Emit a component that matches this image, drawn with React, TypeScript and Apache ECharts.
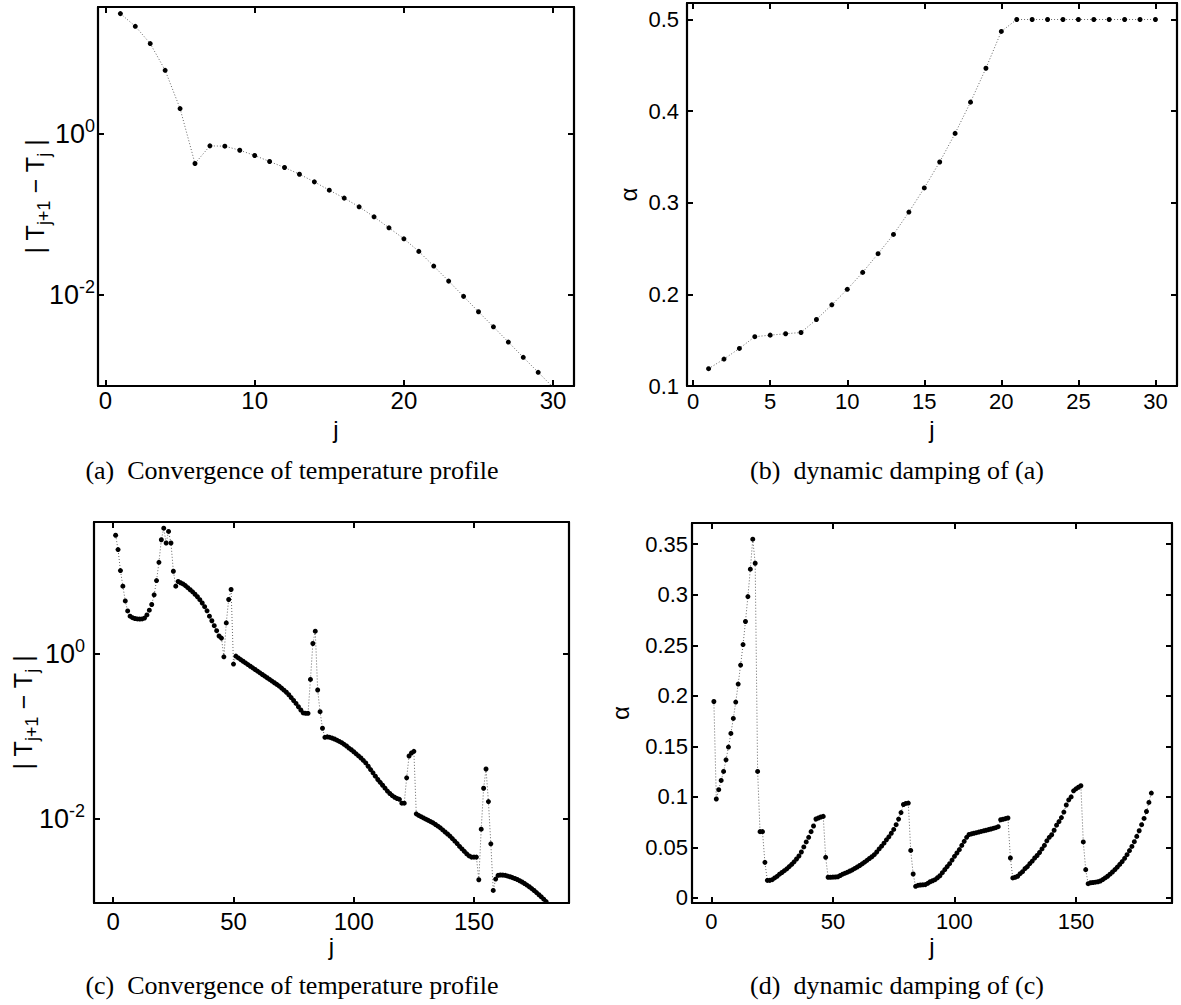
import React, { useEffect, useRef } from 'react';
import * as echarts from 'echarts';

// ---------- data ----------
// (a) |T_{j+1} - T_j| for the 30-iteration run
const convA = [30.55, 21.28, 13.0, 6.067, 2.037, 0.4256, 0.7031, 0.6966, 0.6209, 0.5346,
  0.4498, 0.3793, 0.3133, 0.2518, 0.1986, 0.1585, 0.1236, 0.0929, 0.06792, 0.04966,
  0.03467, 0.0228, 0.01486, 0.009616, 0.006194, 0.004036, 0.002612, 0.00169, 0.001102, 0.000718];
// (b) damping alpha for run (a)
const dampB = [0.1189, 0.1294, 0.141, 0.1538, 0.1555, 0.157, 0.1584, 0.1726, 0.1886, 0.2055,
  0.224, 0.2444, 0.2654, 0.2898, 0.3162, 0.3445, 0.3757, 0.4098, 0.4468, 0.487,
  0.5, 0.5, 0.5, 0.5, 0.5, 0.5, 0.5, 0.5, 0.5, 0.5];
// (c) |T_{j+1} - T_j| for the 181-iteration run
const convC = [27.16, 18.24, 10.16, 6.577, 4.365, 3.304, 2.851, 2.735, 2.673, 2.642,
  2.630, 2.642, 2.704, 2.951, 3.373, 3.945, 5.164, 7.691, 12.79, 23.99,
  33.11, 21.88, 30.2, 21.88, 9.977, 6.577, 7.499, 7.244, 6.998, 6.683,
  6.310, 5.957, 5.623, 5.248, 4.898, 4.519, 4.121, 3.715, 3.311, 2.851,
  2.512, 2.188, 1.905, 1.641, 1.549, 0.9204, 2.366, 4.539, 5.998, 0.7516,
  0.9376, 0.8913, 0.8511, 0.8128, 0.7762, 0.7413, 0.7079, 0.6761, 0.6457, 0.6166,
  0.5888, 0.5623, 0.5370, 0.5129, 0.4898, 0.4677, 0.4467, 0.4266, 0.4074, 0.3846,
  0.3631, 0.3428, 0.3199, 0.2951, 0.2723, 0.2512, 0.2291, 0.2089, 0.1928, 0.1905,
  0.1905, 0.4898, 1.334, 1.879, 0.3648, 0.1995, 0.1259, 0.09772, 0.09886, 0.09772,
  0.0955, 0.09333, 0.09016, 0.0871, 0.08414, 0.08035, 0.07674, 0.07244, 0.06918, 0.06531,
  0.06166, 0.05821, 0.05495, 0.05129, 0.04786, 0.04365, 0.03981, 0.03631, 0.03311, 0.0302,
  0.02786, 0.0257, 0.02371, 0.02188, 0.02042, 0.01928, 0.01841, 0.01778, 0.01738, 0.0156,
  0.0156, 0.03162, 0.05808, 0.0631, 0.06607, 0.01159, 0.01109, 0.01072, 0.01035, 0.01,
  0.009661, 0.009333, 0.009016, 0.00861, 0.008222, 0.007852, 0.007413, 0.006998, 0.006607, 0.006237,
  0.005821, 0.005433, 0.00507, 0.004677, 0.004365, 0.004074, 0.003802, 0.003589, 0.003475, 0.003475,
  0.003475, 0.001849, 0.007568, 0.02366, 0.04046, 0.01633, 0.005035, 0.001374, 0.001884, 0.002089,
  0.002113, 0.002104, 0.002089, 0.002051, 0.002009, 0.001963, 0.001914, 0.001862, 0.001799, 0.001738,
  0.001667, 0.001596, 0.001521, 0.001445, 0.001371, 0.001294, 0.001219, 0.001148, 0.001076, 0.001007, 0.000933];
// (d) damping alpha for run (c)
const dampD = [0.1944, 0.0979, 0.1071, 0.1163, 0.1252, 0.1367, 0.1493, 0.1628, 0.1776, 0.1938,
  0.2116, 0.2304, 0.2507, 0.2735, 0.2982, 0.3253, 0.355, 0.3312, 0.1252, 0.0656,
  0.0656, 0.0352, 0.0174, 0.0174, 0.0181, 0.0198, 0.0214, 0.0235, 0.0252, 0.027,
  0.0288, 0.031, 0.0332, 0.0357, 0.0385, 0.0415, 0.0455, 0.0505, 0.0554, 0.06,
  0.0656, 0.0712, 0.0781, 0.0791, 0.0801, 0.0807, 0.0402, 0.0205, 0.0205, 0.0206,
  0.0207, 0.021, 0.0222, 0.0235, 0.0245, 0.0255, 0.0267, 0.0278, 0.0292, 0.0306,
  0.0321, 0.0337, 0.0354, 0.0372, 0.039, 0.0408, 0.0428, 0.0455, 0.0485, 0.0512,
  0.0542, 0.0575, 0.0605, 0.064, 0.0678, 0.0725, 0.078, 0.0845, 0.0925, 0.0935,
  0.0939, 0.047, 0.0237, 0.0115, 0.0125, 0.0128, 0.013, 0.0132, 0.0145, 0.016,
  0.017, 0.0181, 0.02, 0.022, 0.025, 0.028, 0.031, 0.0339, 0.0375, 0.0412,
  0.0445, 0.0478, 0.052, 0.056, 0.06, 0.0628, 0.0634, 0.064, 0.0646, 0.0652,
  0.0658, 0.0664, 0.067, 0.0676, 0.0682, 0.0689, 0.0695, 0.0705, 0.0774, 0.0779,
  0.0785, 0.0791, 0.0395, 0.0198, 0.0205, 0.0215, 0.024, 0.026, 0.029, 0.031,
  0.034, 0.0365, 0.0395, 0.042, 0.045, 0.0485, 0.052, 0.0565, 0.06, 0.0625,
  0.067, 0.072, 0.0755, 0.0795, 0.085, 0.092, 0.097, 0.1, 0.106, 0.108,
  0.1095, 0.111, 0.0554, 0.028, 0.0141, 0.015, 0.0153, 0.0156, 0.016, 0.0168,
  0.0182, 0.0198, 0.0215, 0.0235, 0.0257, 0.028, 0.0305, 0.0332, 0.036, 0.0392,
  0.0428, 0.0468, 0.051, 0.0557, 0.0609, 0.0665, 0.0725, 0.0787, 0.0855, 0.0945, 0.1038];

// tick values
const ticksJ30 = [0, 10, 20, 30];
const ticksJ30b = [0, 5, 10, 15, 20, 25, 30];
const ticksJ180 = [0, 50, 100, 150];
const ticksLog = [1, 0.01];
const ticksAlphaB = [0.1, 0.2, 0.3, 0.4, 0.5];
const ticksAlphaD = [0, 0.05, 0.1, 0.15, 0.2, 0.25, 0.3, 0.35];

const captions = [
  '(a)  Convergence of temperature profile',
  '(b)  dynamic damping of (a)',
  '(c)  Convergence of temperature profile',
  '(d)  dynamic damping of (c)',
];

const SANS = '"Liberation Sans", Arial, Helvetica, sans-serif';
const SERIF = '"Liberation Serif", "Times New Roman", serif';

const withIndex = (arr: number[]) => arr.map((v, i) => [i + 1, v]);

export default function App() {
  const ref = useRef<HTMLDivElement>(null);

  useEffect(() => {
    if (!ref.current) return;
    const chart = echarts.init(ref.current, null, { renderer: 'svg' });

    const grids = [
      { left: 98, top: 7, width: 476, height: 379 },
      { left: 687, top: 3, width: 490, height: 383 },
      { left: 94, top: 522, width: 475, height: 381 },
      { left: 692, top: 523, width: 480, height: 380 },
    ].map((g) => ({
      ...g,
      show: false,
      containLabel: false,
      outerBoundsMode: 'none',
    }));

    const lineStyleBox = { show: true, onZero: false, lineStyle: { color: '#000', width: 2.2 } };

    const tickStyle = (vals: number[]) => ({
      show: true,
      inside: true,
      length: 6,
      customValues: vals,
      lineStyle: { color: '#000', width: 2 },
    });

    const supRich = (fs: number) => ({
      b: { fontSize: fs, fontFamily: SANS, color: '#000', lineHeight: fs },
      p: { fontSize: Math.round(fs * 0.66), fontFamily: SANS, color: '#000', lineHeight: Math.round(fs * 0.66), padding: [0, 0, 16, 0] },
    });

    const subRich = {
      n: { fontSize: 25, fontFamily: SANS, color: '#000', lineHeight: 25 },
      s: { fontSize: 18, fontFamily: SANS, color: '#000', lineHeight: 18, padding: [18, 0, 0, 0] },
    };
    const yNameT = '{n|| T}{s|j+1}{n| \u2212 T}{s|j}{n| |}';

    const xBottom = (gi: number, min: number, max: number, ticks: number[], fs: number, margin: number) => ({
      gridIndex: gi,
      type: 'value',
      position: 'bottom',
      min,
      max,
      axisLine: lineStyleBox,
      splitLine: { show: false },
      axisTick: tickStyle(ticks),
      axisLabel: { customValues: ticks, margin, color: '#000', fontFamily: SANS, fontSize: fs },
      name: 'j',
      nameLocation: 'middle',
      nameGap: 31,
      nameMoveOverlap: false,
      nameTextStyle: { color: '#000', fontFamily: SANS, fontSize: 24 },
    });
    const xTop = (gi: number, min: number, max: number, ticks: number[]) => ({
      gridIndex: gi,
      type: 'value',
      position: 'top',
      min,
      max,
      axisLine: lineStyleBox,
      splitLine: { show: false },
      axisTick: tickStyle(ticks),
      axisLabel: { show: false },
    });
    const yRight = (gi: number, type: string, min: number, max: number, ticks: number[]) => ({
      gridIndex: gi,
      type,
      position: 'right',
      min,
      max,
      axisLine: lineStyleBox,
      splitLine: { show: false },
      axisTick: tickStyle(ticks),
      axisLabel: { show: false },
    });

    const logLabel = (fs: number, margin: number) => ({
      customValues: ticksLog,
      margin,
      color: '#000',
      fontFamily: SANS,
      fontSize: fs,
      formatter: (v: number) => (v > 0.5 ? '{b|10}{p|0}' : '{b|10}{p|-2}'),
      rich: supRich(fs),
    });

    const yLeftLog = (gi: number, min: number, max: number, fs: number, margin: number, gap: number) => ({
      gridIndex: gi,
      type: 'log',
      logBase: 10,
      position: 'left',
      min,
      max,
      axisLine: lineStyleBox,
      splitLine: { show: false },
      axisTick: tickStyle(ticksLog),
      axisLabel: logLabel(fs, margin),
      name: yNameT,
      nameLocation: 'middle',
      nameRotate: 90,
      nameGap: gap,
      nameMoveOverlap: false,
      nameTextStyle: { fontSize: 25, fontFamily: SANS, color: '#000', rich: subRich },
    });
    const yLeftAlpha = (gi: number, min: number, max: number, ticks: number[], fs: number, margin: number, gap: number) => ({
      gridIndex: gi,
      type: 'value',
      position: 'left',
      min,
      max,
      axisLine: lineStyleBox,
      splitLine: { show: false },
      axisTick: tickStyle(ticks),
      axisLabel: { customValues: ticks, margin, color: '#000', fontFamily: SANS, fontSize: fs },
      name: '\u03b1',
      nameLocation: 'middle',
      nameRotate: 90,
      nameGap: gap,
      nameMoveOverlap: false,
      nameTextStyle: { color: '#000', fontFamily: SANS, fontSize: 24 },
    });

    const rangeA = { xmin: -0.5, xmax: 31.4, ymin: 7.46e-4, ymax: 36.9 };
    const rangeB = { xmin: -0.4, xmax: 31.4, ymin: 0.1, ymax: 0.518 };
    const rangeC = { xmin: -8, xmax: 189.5, ymin: 9.68e-4, ymax: 39.3 };
    const rangeD = { xmin: -8, xmax: 189.5, ymin: -0.005, ymax: 0.371 };

    const xAxis = [
      xBottom(0, rangeA.xmin, rangeA.xmax, ticksJ30, 24, 2),
      xBottom(1, rangeB.xmin, rangeB.xmax, ticksJ30b, 22, 4),
      xBottom(2, rangeC.xmin, rangeC.xmax, ticksJ180, 24, 6),
      xBottom(3, rangeD.xmin, rangeD.xmax, ticksJ180, 22, 7),
      xTop(0, rangeA.xmin, rangeA.xmax, ticksJ30),
      xTop(1, rangeB.xmin, rangeB.xmax, ticksJ30b),
      xTop(2, rangeC.xmin, rangeC.xmax, ticksJ180),
      xTop(3, rangeD.xmin, rangeD.xmax, ticksJ180),
    ];
    const yAxis = [
      yLeftLog(0, rangeA.ymin, rangeA.ymax, 27, 3, 51),
      yLeftAlpha(1, rangeB.ymin, rangeB.ymax, ticksAlphaB, 22, 8, 47),
      yLeftLog(2, rangeC.ymin, rangeC.ymax, 27, 9, 59),
      yLeftAlpha(3, rangeD.ymin, rangeD.ymax, ticksAlphaD, 22, 4, 60),
      yRight(0, 'log', rangeA.ymin, rangeA.ymax, ticksLog),
      yRight(1, 'value', rangeB.ymin, rangeB.ymax, ticksAlphaB),
      yRight(2, 'log', rangeC.ymin, rangeC.ymax, ticksLog),
      yRight(3, 'value', rangeD.ymin, rangeD.ymax, ticksAlphaD),
    ];

    const mkSeries = (i: number, data: number[]) => ({
      type: 'line',
      xAxisIndex: i,
      yAxisIndex: i,
      data: withIndex(data),
      symbol: 'circle',
      symbolSize: 5,
      showSymbol: true,
      clip: true,
      itemStyle: { color: '#000' },
      lineStyle: { color: '#666', width: 1, type: [1, 2] },
      emphasis: { disabled: true },
    });

    const capPos = [
      [292, 470],
      [897, 470],
      [292, 985],
      [897, 985],
    ];

    chart.setOption({
      animation: false,
      backgroundColor: '#fff',
      grid: grids,
      xAxis,
      yAxis,
      series: [mkSeries(0, convA), mkSeries(1, dampB), mkSeries(2, convC), mkSeries(3, dampD)],
      graphic: captions.map((t, i) => ({
        type: 'text',
        x: capPos[i][0],
        y: capPos[i][1],
        style: {
          text: t,
          fontFamily: SERIF,
          fontSize: 26,
          fill: '#000',
          align: 'center',
          verticalAlign: 'middle',
        },
      })),
    });

    return () => chart.dispose();
  }, []);

  return (
    <div
      ref={ref}
      style={{ position: 'absolute', left: 0, top: 0, width: 1181, height: 1005, background: '#fff' }}
    />
  );
}
